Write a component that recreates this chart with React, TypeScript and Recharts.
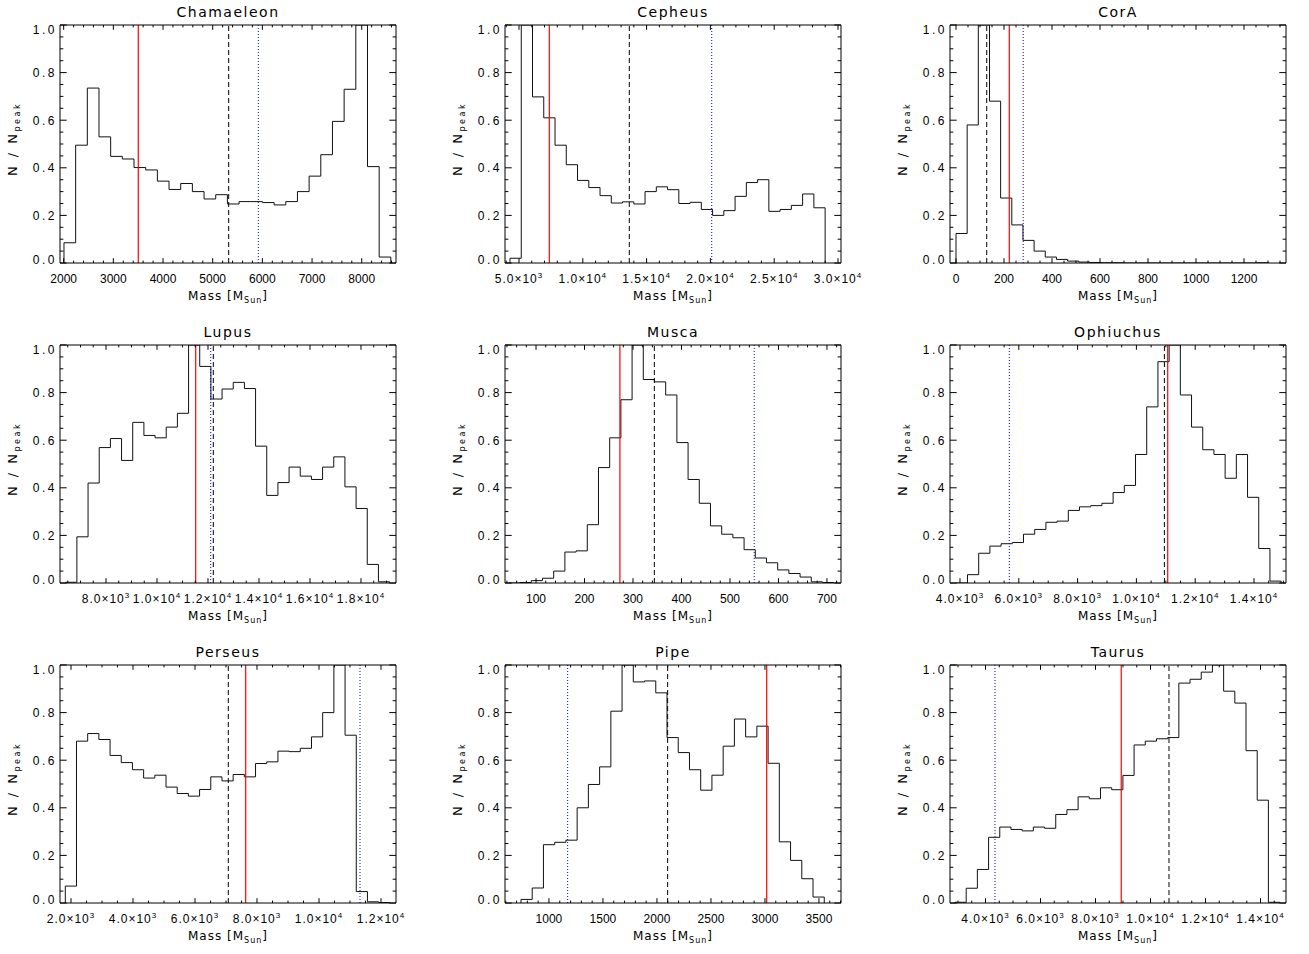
import React from "react";
import { LineChart, Line, XAxis, YAxis, ReferenceLine } from "recharts";

// N / N_peak per mass bin
const chamaeleonCounts = [0.085, 0.495, 0.735, 0.53, 0.448, 0.437, 0.401, 0.391, 0.344, 0.309, 0.334, 0.3, 0.269, 0.287, 0.248, 0.258, 0.258, 0.254, 0.244, 0.258, 0.3, 0.365, 0.455, 0.595, 0.73, 1.0, 0.405, 0.025];
const cepheusCounts = [0.02, 1.0, 0.698, 0.61, 0.495, 0.413, 0.347, 0.317, 0.283, 0.252, 0.257, 0.248, 0.3, 0.32, 0.308, 0.25, 0.255, 0.225, 0.2, 0.22, 0.28, 0.338, 0.35, 0.217, 0.225, 0.242, 0.29, 0.232];
const coraCounts = [0.124, 0.58, 1.0, 0.68, 0.273, 0.16, 0.095, 0.05, 0.025, 0.015, 0.008, 0.004, 0.002, 0.001, 0.001, 0, 0, 0, 0, 0, 0, 0, 0, 0, 0, 0, 0, 0.001];
const lupusCounts = [0.003, 0.194, 0.42, 0.569, 0.607, 0.515, 0.675, 0.62, 0.61, 0.655, 0.713, 1.0, 0.91, 0.773, 0.815, 0.843, 0.817, 0.575, 0.368, 0.422, 0.487, 0.449, 0.435, 0.487, 0.53, 0.404, 0.313, 0.078, 0.005];
const muscaCounts = [0.0, 0.002, 0.01, 0.02, 0.05, 0.13, 0.135, 0.245, 0.485, 0.61, 0.77, 1.0, 0.855, 0.845, 0.79, 0.59, 0.435, 0.335, 0.24, 0.205, 0.19, 0.14, 0.105, 0.085, 0.055, 0.04, 0.025, 0.005, 0.002];
const ophiuchusCounts = [0.0, 0.035, 0.125, 0.155, 0.165, 0.17, 0.205, 0.225, 0.255, 0.26, 0.305, 0.32, 0.325, 0.335, 0.38, 0.41, 0.54, 0.74, 0.93, 1.0, 0.79, 0.655, 0.56, 0.54, 0.44, 0.54, 0.36, 0.145, 0.008];
const perseusCounts = [0.071, 0.68, 0.712, 0.687, 0.62, 0.59, 0.56, 0.525, 0.537, 0.487, 0.46, 0.449, 0.477, 0.53, 0.513, 0.54, 0.53, 0.586, 0.593, 0.638, 0.636, 0.65, 0.698, 0.8, 1.0, 0.705, 0.048, 0.005, 0.002];
const pipeCounts = [0.015, 0.063, 0.245, 0.255, 0.264, 0.4, 0.498, 0.572, 0.806, 1.0, 0.929, 0.933, 0.883, 0.695, 0.632, 0.56, 0.474, 0.537, 0.659, 0.773, 0.698, 0.743, 0.587, 0.257, 0.179, 0.102, 0.025];
const taurusCounts = [0.003, 0.062, 0.141, 0.276, 0.319, 0.309, 0.303, 0.319, 0.314, 0.372, 0.392, 0.446, 0.438, 0.484, 0.476, 0.536, 0.664, 0.68, 0.69, 0.695, 0.924, 0.94, 0.97, 1.0, 0.89, 0.84, 0.64, 0.432, 0.003];

// x tick labels
const chamaeleonTicks = [2000, 3000, 4000, 5000, 6000, 7000, 8000];
const cepheusTicks = [5000, 10000, 15000, 20000, 25000, 30000];
const coraTicks = [0, 200, 400, 600, 800, 1000, 1200];
const lupusTicks = [8000, 10000, 12000, 14000, 16000, 18000];
const muscaTicks = [100, 200, 300, 400, 500, 600, 700];
const ophiuchusTicks = [4000, 6000, 8000, 10000, 12000, 14000];
const perseusTicks = [2000, 4000, 6000, 8000, 10000, 12000];
const pipeTicks = [1000, 1500, 2000, 2500, 3000, 3500];
const taurusTicks = [4000, 6000, 8000, 10000, 12000, 14000];
const yTicks = [0, 0.2, 0.4, 0.6, 0.8, 1.0];

// red = solid, dashed = black dashed, dotted = blue dotted (mass)
const markers = {
  Chamaeleon: [3502, 5322, 5918],
  Cepheus: [7375, 13644, 20103],
  CorA: [222, 128, 280],
  Lupus: [11518, 12208, 12106],
  Musca: [273, 344, 550],
  Ophiuchus: [11065, 10952, 5677],
  Perseus: [7635, 7074, 11323],
  Pipe: [3016, 2099, 1173],
  Taurus: [8935, 10673, 4345],
};

type Panel = {
  name: keyof typeof markers;
  domain: [number, number];
  binStart: number;
  binWidth: number;
  counts: number[];
  ticks: number[];
  minorStep: number;
  sci: boolean;
};

const panels: Panel[] = [
  { name: "Chamaeleon", domain: [1926, 8690], binStart: 2006, binWidth: 235, counts: chamaeleonCounts, ticks: chamaeleonTicks, minorStep: 200, sci: false },
  { name: "Cepheus", domain: [3903, 30235], binStart: 4295, binWidth: 882, counts: cepheusCounts, ticks: cepheusTicks, minorStep: 1000, sci: true },
  { name: "CorA", domain: [-25, 1375], binStart: 0, binWidth: 46.5, counts: coraCounts, ticks: coraTicks, minorStep: 50, sci: false },
  { name: "Lupus", domain: [6196, 19373], binStart: 6420, binWidth: 438, counts: lupusCounts, ticks: lupusTicks, minorStep: 500, sci: true },
  { name: "Musca", domain: [36, 729], binStart: 44, binWidth: 23.1, counts: muscaCounts, ticks: muscaTicks, minorStep: 20, sci: false },
  { name: "Ophiuchus", domain: [3660, 15088], binStart: 3874, binWidth: 381, counts: ophiuchusCounts, ticks: ophiuchusTicks, minorStep: 500, sci: true },
  { name: "Perseus", domain: [1645, 12484], binStart: 1816, binWidth: 361, counts: perseusCounts, ticks: perseusTicks, minorStep: 500, sci: true },
  { name: "Pipe", domain: [593, 3704], binStart: 741, binWidth: 104, counts: pipeCounts, ticks: pipeTicks, minorStep: 100, sci: false },
  { name: "Taurus", domain: [2709, 14927], binStart: 2891, binWidth: 407, counts: taurusCounts, ticks: taurusTicks, minorStep: 500, sci: true },
];

const W = 445;
const H = 320;
const MARGIN = { top: 24, right: 48, bottom: 17, left: 15 };
const TICK_FONT = "'Liberation Sans Narrow', 'Liberation Sans', Arial, sans-serif";
const LABEL_FONT = "'DejaVu Sans', 'Liberation Sans', sans-serif";
const XLEN = 4.8; // x ticks
const YLEN = 6.7; // y ticks

function stepData(p: Panel) {
  const pts = [{ m: p.binStart, v: 0 }];
  p.counts.forEach((c, i) => pts.push({ m: p.binStart + i * p.binWidth, v: c }));
  pts.push({ m: p.binStart + p.counts.length * p.binWidth, v: 0 });
  return pts;
}

function allTicks(lo: number, hi: number, step: number) {
  const out: number[] = [];
  for (let k = Math.ceil(lo / step); k * step <= hi + 1e-9; k++) out.push(+(k * step).toFixed(6));
  return out;
}

const near = (list: number[], v: number, step: number) => list.some((t) => Math.abs(t - v) < step * 1e-3);

function xLabel(v: number, sci: boolean) {
  if (!sci) return <tspan>{String(v)}</tspan>;
  const e = Math.floor(Math.log10(v) + 1e-9);
  const m = (v / Math.pow(10, e)).toFixed(1);
  return (
    <>
      <tspan>{m + "×10"}</tspan>
      <tspan dy={-5} fontSize={8}>{e}</tspan>
    </>
  );
}

function HistPanel({ p, row, col }: { p: Panel; row: number; col: number }) {
  const data = stepData(p);
  const xt = allTicks(p.domain[0], p.domain[1], p.minorStep);
  const yt = allTicks(0, 1, 0.05);
  const [red, dashed, dotted] = markers[p.name];

  const bottomTick = (props: any) => {
    const { x, y, payload } = props;
    const major = near(p.ticks, payload.value, p.minorStep);
    return (
      <g>
        <line x1={x} x2={x} y1={y} y2={y - (major ? XLEN : XLEN / 2)} stroke="#000" />
        {major && (
          <text x={x} y={y + 19.5} textAnchor="middle" fontSize={12} letterSpacing={p.sci ? 1 : 0}
            fontFamily={TICK_FONT} fill="#000">
            {xLabel(payload.value, p.sci)}
          </text>
        )}
      </g>
    );
  };
  const topTick = (props: any) => {
    const { x, y, payload } = props;
    const major = near(p.ticks, payload.value, p.minorStep);
    return <line x1={x} x2={x} y1={y} y2={y + (major ? XLEN : XLEN / 2)} stroke="#000" />;
  };
  const leftTick = (props: any) => {
    const { x, y, payload } = props;
    const v = payload.value;
    const major = near(yTicks, v, 0.05);
    const nudge = v > 0.99 ? 4.5 : v < 0.01 ? -3 : 0;
    return (
      <g>
        <line x1={x} x2={x + (major ? YLEN : YLEN / 2)} y1={y} y2={y} stroke="#000" />
        {major && (
          <text x={x - 3} y={y + 4.3 + nudge} textAnchor="end" fontSize={12} letterSpacing={2.5}
            fontFamily={TICK_FONT} fill="#000">
            {v.toFixed(1)}
          </text>
        )}
      </g>
    );
  };
  const rightTick = (props: any) => {
    const { x, y, payload } = props;
    const major = near(yTicks, payload.value, 0.05);
    return <line x1={x} x2={x - (major ? YLEN : YLEN / 2)} y1={y} y2={y} stroke="#000" />;
  };

  return (
    <div style={{ position: "absolute", left: col * W, top: row * H, width: W, height: H }}>
      <LineChart width={W} height={H} data={data} margin={MARGIN}>
        <XAxis xAxisId="b" dataKey="m" type="number" domain={p.domain} allowDataOverflow ticks={xt} interval={0}
          tickSize={0} tickMargin={0} tickLine={false} tick={bottomTick} axisLine={{ stroke: "#000" }} height={40} />
        <XAxis xAxisId="t" orientation="top" dataKey="m" type="number" domain={p.domain} allowDataOverflow ticks={xt} interval={0}
          tickSize={0} tickMargin={0} tickLine={false} tick={topTick} axisLine={{ stroke: "#000" }} height={1} />
        <YAxis yAxisId="l" type="number" domain={[0, 1]} allowDataOverflow ticks={yt} interval={0}
          tickSize={0} tickMargin={0} tickLine={false} tick={leftTick} axisLine={{ stroke: "#000" }} width={45} />
        <YAxis yAxisId="r" orientation="right" type="number" domain={[0, 1]} allowDataOverflow ticks={yt} interval={0}
          tickSize={0} tickMargin={0} tickLine={false} tick={rightTick} axisLine={{ stroke: "#000" }} width={1} />
        <Line xAxisId="b" yAxisId="l" type="stepAfter" dataKey="v" stroke="#111" strokeWidth={1}
          dot={false} activeDot={false} isAnimationActive={false} />
        <ReferenceLine xAxisId="b" yAxisId="l" x={red} stroke="#ff0000" strokeWidth={1.2} />
        <ReferenceLine xAxisId="b" yAxisId="l" x={dashed} stroke="#000" strokeDasharray="5 3" />
        <ReferenceLine xAxisId="b" yAxisId="l" x={dotted} stroke="#0000ff" strokeDasharray="1 2" />
      </LineChart>
      <div style={{ position: "absolute", left: 60, top: 3, width: 336, textAlign: "center", fontFamily: LABEL_FONT,
        fontSize: 14, lineHeight: "18px", letterSpacing: 1.5, color: "#000" }}>
        {p.name}
      </div>
      <div style={{ position: "absolute", left: 60, top: 288, width: 336, textAlign: "center", fontFamily: LABEL_FONT,
        fontSize: 12, lineHeight: "16px", letterSpacing: 1, color: "#000" }}>
        Mass [M<sub style={{ fontSize: 8, verticalAlign: -3 }}>Sun</sub>]
      </div>
      <div style={{ position: "absolute", left: 15, top: 139, transform: "translate(-50%, -50%) rotate(-90deg)",
        whiteSpace: "nowrap", fontFamily: LABEL_FONT, fontSize: 13, lineHeight: "16px", letterSpacing: 2.5, color: "#000" }}>
        N / N<sub style={{ fontSize: 8, verticalAlign: -3 }}>peak</sub>
      </div>
    </div>
  );
}

export default function App() {
  return (
    <div style={{ position: "absolute", left: 0, top: 0, width: 1309, height: 954, background: "#fff" }}>
      {panels.map((p, i) => (
        <HistPanel key={p.name} p={p} row={Math.floor(i / 3)} col={i % 3} />
      ))}
    </div>
  );
}
